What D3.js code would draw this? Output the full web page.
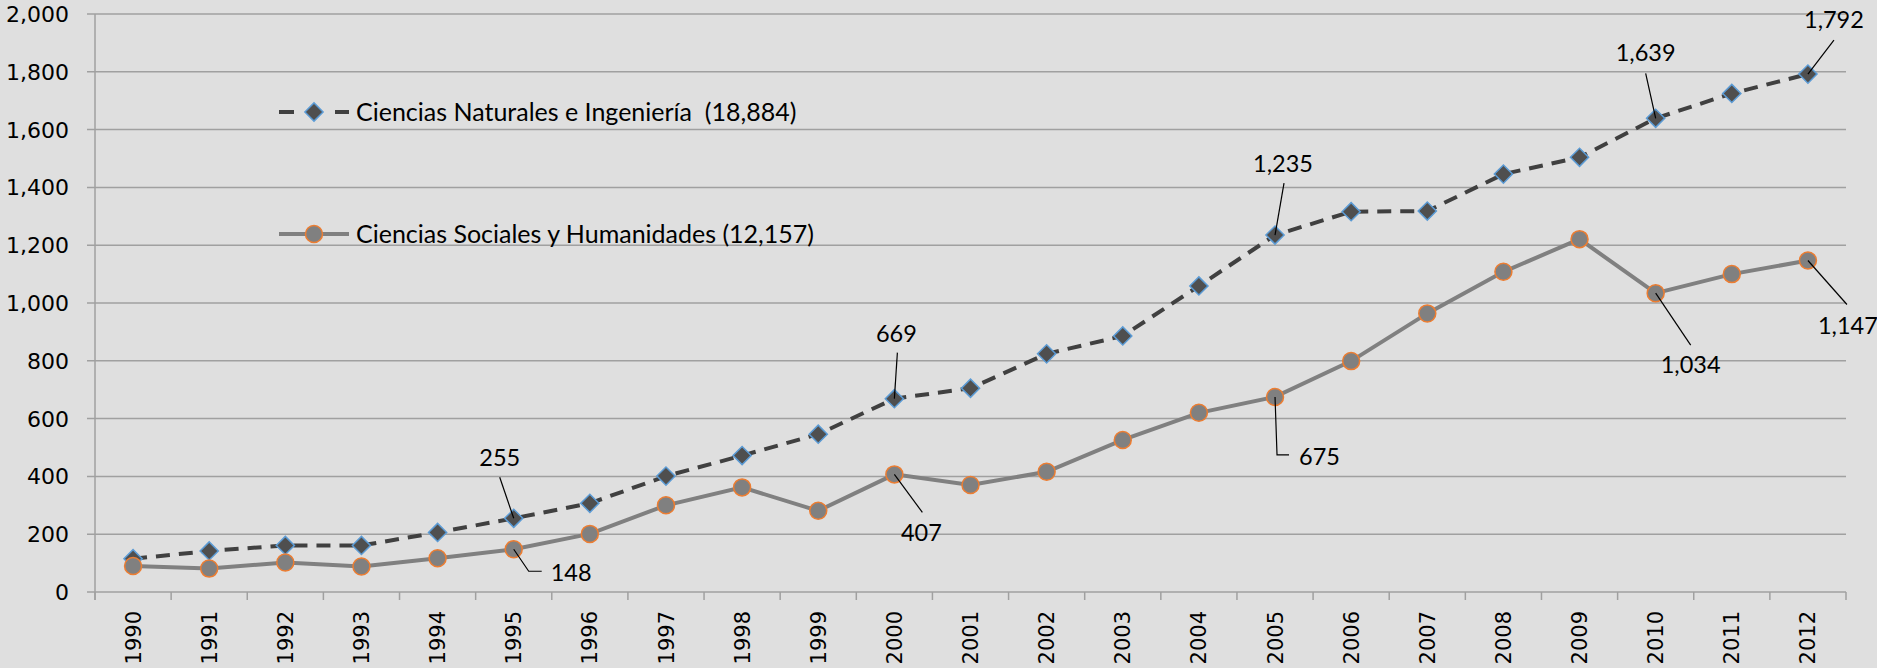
<!DOCTYPE html>
<html>
<head>
<meta charset="utf-8">
<script src="https://cdn.jsdelivr.net/npm/d3@7/dist/d3.min.js"></script>
<style>
  html, body { margin: 0; padding: 0; background: #dfdfdf; }
  svg { display: block; }
</style>
</head>
<body>
<svg id="chart"></svg>
<script>
// categories (years) and series values
const years = ["1990", "1991", "1992", "1993", "1994", "1995", "1996", "1997", "1998", "1999", "2000", "2001",
  "2002", "2003", "2004", "2005", "2006", "2007", "2008", "2009", "2010", "2011", "2012"];

const naturales = [115, 142, 161, 161, 206, 255, 307, 401, 472, 546, 669, 705,
  824, 886, 1059, 1235, 1316, 1318, 1446, 1504, 1639, 1725, 1792];

const sociales = [90, 81, 102, 88, 117, 148, 201, 300, 362, 281, 407, 370,
  416, 526, 620, 675, 799, 964, 1108, 1221, 1034, 1100, 1147];

const seriesNames = [
  "Ciencias Naturales e Ingeniería  (18,884)",
  "Ciencias Sociales y Humanidades (12,157)",
];

const yTickValues = [0, 200, 400, 600, 800, 1000, 1200, 1400, 1600, 1800, 2000];

// years that carry a value label on each series
const labelYearsNat = ["1995", "2000", "2005", "2010", "2012"];
const labelYearsSoc = ["1995", "2000", "2005", "2010", "2012"];

// leader line + label placement, offsets in px from the point
const labelLayout = {
  nat: {
    "1995": { line: [[0, 0], [-14, -41]], text: [-14, -52], anchor: "middle" },
    "2000": { line: [[0, 0], [3, -46]], text: [2, -57], anchor: "middle" },
    "2005": { line: [[0, 0], [9, -52]], text: [8, -63], anchor: "middle" },
    "2010": { line: [[0, 0], [-10, -45]], text: [-10, -57], anchor: "middle" },
    "2012": { line: [[0, 0], [26, -34]], text: [26, -46], anchor: "middle" },
  },
  soc: {
    "1995": { line: [[0, 0], [15, 22], [28, 22]], text: [37, 32], anchor: "start" },
    "2000": { line: [[0, 0], [28, 38]], text: [27, 67], anchor: "middle" },
    "2005": { line: [[0, 0], [2, 58], [14, 58]], text: [24, 68], anchor: "start" },
    "2010": { line: [[0, 0], [35, 52]], text: [35, 80], anchor: "middle" },
    "2012": { line: [[0, 0], [39, 44]], text: [10, 73], anchor: "start" },
  },
};

const W = 1877, H = 668;
const plotLeft = 95, plotRight = 1846, plotTop = 14, plotBottom = 592;

const svg = d3.select("#chart").attr("width", W).attr("height", H);

svg.append("rect").attr("width", W).attr("height", H).attr("fill", "#dfdfdf");

const x = d3.scaleBand().domain(years).range([plotLeft, plotRight]);
const y = d3.scaleLinear().domain([0, 2000]).range([plotBottom, plotTop]);
const cx = (yr) => x(yr) + x.bandwidth() / 2;

// horizontal gridlines (they also poke out left as tick marks)
svg.append("g")
  .selectAll("line")
  .data(yTickValues)
  .enter()
  .append("line")
  .attr("x1", plotLeft - 8)
  .attr("x2", plotRight)
  .attr("y1", (d) => y(d))
  .attr("y2", (d) => y(d))
  .attr("stroke", "#a0a0a0")
  .attr("stroke-width", 1.5);

// y axis labels
const fmt = d3.format(",");
svg.append("g")
  .selectAll("text")
  .data(yTickValues)
  .enter()
  .append("text")
  .attr("x", 69)
  .attr("y", (d) => y(d))
  .attr("dy", "0.36em")
  .attr("text-anchor", "end")
  .attr("font-family", "DejaVu Sans")
  .attr("font-size", 22)
  .attr("fill", "#000")
  .text((d) => fmt(d));

// y axis line
svg.append("line")
  .attr("x1", plotLeft).attr("x2", plotLeft)
  .attr("y1", plotTop).attr("y2", plotBottom + 8)
  .attr("stroke", "#a0a0a0").attr("stroke-width", 1.5);

// x axis ticks at band edges
const edges = years.map((d) => x(d)).concat([plotRight]);
svg.append("g")
  .selectAll("line")
  .data(edges)
  .enter()
  .append("line")
  .attr("x1", (d) => d).attr("x2", (d) => d)
  .attr("y1", plotBottom).attr("y2", plotBottom + 8)
  .attr("stroke", "#a0a0a0").attr("stroke-width", 1.5);

// x labels, rotated
svg.append("g")
  .selectAll("text")
  .data(years)
  .enter()
  .append("text")
  .attr("transform", (d) => "translate(" + cx(d) + "," + 611 + ") rotate(-90)")
  .attr("dy", "0.36em")
  .attr("text-anchor", "end")
  .attr("font-family", "DejaVu Sans")
  .attr("font-size", 21)
  .attr("fill", "#000")
  .text((d) => d);

const line = d3.line().x((d, i) => cx(years[i])).y((d) => y(d));

// Sociales line
svg.append("path")
  .attr("d", line(sociales))
  .attr("fill", "none")
  .attr("stroke", "#808080")
  .attr("stroke-width", 4);

// Naturales line (dashed)
svg.append("path")
  .attr("d", line(naturales))
  .attr("fill", "none")
  .attr("stroke", "#404040")
  .attr("stroke-width", 4)
  .attr("stroke-dasharray", "14,9");

const diamond = d3.symbol().type(d3.symbolSquare).size(165);

svg.append("g")
  .selectAll("path")
  .data(naturales)
  .enter()
  .append("path")
  .attr("d", diamond)
  .attr("transform", (d, i) => "translate(" + cx(years[i]) + "," + y(d) + ") rotate(45)")
  .attr("fill", "#4f4f4f")
  .attr("stroke", "#5b9bd5")
  .attr("stroke-width", 1.5);

svg.append("g")
  .selectAll("circle")
  .data(sociales)
  .enter()
  .append("circle")
  .attr("cx", (d, i) => cx(years[i]))
  .attr("cy", (d) => y(d))
  .attr("r", 8.5)
  .attr("fill", "#808080")
  .attr("stroke", "#ed7d31")
  .attr("stroke-width", 1.5);

// value labels with leader lines
function drawLabels(values, labelYears, layout) {
  labelYears.forEach((yr) => {
    const i = years.indexOf(yr);
    const px = cx(yr), py = y(values[i]);
    const cfg = layout[yr];
    svg.append("polyline")
      .attr("points", cfg.line.map((p) => (px + p[0]) + "," + (py + p[1])).join(" "))
      .attr("fill", "none")
      .attr("stroke", "#000")
      .attr("stroke-width", 1.2);
    svg.append("text")
      .attr("x", px + cfg.text[0])
      .attr("y", py + cfg.text[1])
      .attr("text-anchor", cfg.anchor)
      .attr("font-family", "Lato")
      .attr("font-size", 23.5)
      .attr("fill", "#000")
      .text(fmt(values[i]));
  });
}
drawLabels(naturales, labelYearsNat, labelLayout.nat);
drawLabels(sociales, labelYearsSoc, labelLayout.soc);

// legend
const legend = svg.append("g");
legend.selectAll("line.dash")
  .data([[279, 294], [335, 349]])
  .enter()
  .append("line")
  .attr("class", "dash")
  .attr("x1", (d) => d[0]).attr("x2", (d) => d[1])
  .attr("y1", 112).attr("y2", 112)
  .attr("stroke", "#404040").attr("stroke-width", 4);
legend.append("path")
  .attr("d", diamond)
  .attr("transform", "translate(314,112) rotate(45)")
  .attr("fill", "#4f4f4f").attr("stroke", "#5b9bd5").attr("stroke-width", 1.5);
legend.append("line")
  .attr("x1", 279).attr("x2", 349).attr("y1", 234).attr("y2", 234)
  .attr("stroke", "#808080").attr("stroke-width", 4);
legend.append("circle")
  .attr("cx", 314).attr("cy", 234).attr("r", 8.5)
  .attr("fill", "#808080").attr("stroke", "#ed7d31").attr("stroke-width", 1.5);
legend.selectAll("text.leg")
  .data(seriesNames)
  .enter()
  .append("text")
  .attr("class", "leg")
  .attr("x", 356)
  .attr("y", (d, i) => (i === 0 ? 112 : 234))
  .attr("dy", "0.36em")
  .attr("font-family", "Lato")
  .attr("font-size", 25)
  .attr("fill", "#000")
  .style("white-space", "pre")
  .text((d) => d);
</script>
</body>
</html>
